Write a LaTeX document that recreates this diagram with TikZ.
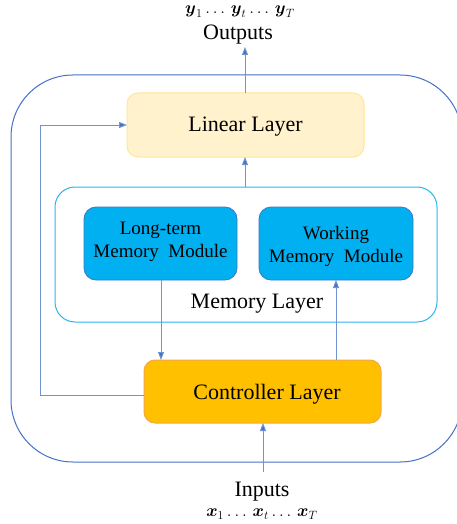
\documentclass[tikz,border=0pt]{standalone}
\usepackage{amsmath}
\usepackage{fontspec}
\setmainfont{Liberation Serif}
\usetikzlibrary{arrows.meta}
\definecolor{lineblue}{HTML}{4472C4}
\definecolor{conblue}{HTML}{6F93D3}
\definecolor{cyanedge}{HTML}{2BB5EA}
\definecolor{modfill}{HTML}{00B0F0}
\definecolor{modedge}{HTML}{3C78C8}
\definecolor{linfill}{HTML}{FFF2CC}
\definecolor{linedge}{HTML}{FFE699}
\definecolor{ctrlfill}{HTML}{FFC000}
\definecolor{ctrledge}{HTML}{F7A642}
\tikzset{
  big/.style={font=\fontsize{22}{26}\selectfont},
  mid/.style={font=\fontsize{19}{23}\selectfont, align=center},
  mathlab/.style={font=\fontsize{16.5}{19}\selectfont},
  conn/.style={draw=conblue, line width=0.9pt, -{Triangle[length=8pt,width=6pt,fill=lineblue]}},
  modbox/.style={draw=modedge, fill=modfill, line width=0.8pt, rounded corners=12pt},
}
\begin{document}
\begin{tikzpicture}[x=1pt,y=-1pt]
\useasboundingbox (0,0) rectangle (457,524);
% outer
\draw[lineblue, line width=1pt, rounded corners=62pt] (11,75) rectangle (462,462);
% linear layer
\draw[linedge, fill=linfill, line width=1pt, rounded corners=11pt] (127,93) rectangle (364,157);
\node[big] (lin) at (245.5,127) {Linear Layer};
\coordinate (linT) at (245,93);
\coordinate (linB) at (245,157);
\coordinate (linL) at (127,125);
% memory layer
\draw[cyanedge, line width=1pt, rounded corners=20pt] (55,187) rectangle (437,322);
\coordinate (memT) at (245,187);
\node[big] (meml) at (257,304) {Memory Layer};
% modules
\draw[modbox] (84,207) rectangle (237,280);
\node[mid] (lt) at (160.5,242) {Long-term\\Memory\ \ Module};
\draw[modbox] (259,207) rectangle (413,280);
\node[mid] (wk) at (336,246) {Working\\Memory\ \ Module};
\coordinate (ltB) at (161,280);
\coordinate (wkB) at (336,280);
% controller
\draw[ctrledge, fill=ctrlfill, line width=1pt, rounded corners=11pt] (144,360) rectangle (381,423);
\node[big] (ctrl) at (267,394) {Controller Layer};
\coordinate (ctT1) at (161,360);
\coordinate (ctT2) at (336,360);
\coordinate (ctL) at (144,395);
\coordinate (ctB) at (263,423);
% texts outside
\node[big] (out) at (238,35) {Outputs};
\node[mathlab] (ylab) at (240,12) {$\boldsymbol{y}_1\ldots\,\boldsymbol{y}_t\ldots\,\boldsymbol{y}_T$};
\node[big] (inp) at (262,492) {Inputs};
\node[mathlab] (xlab) at (262,514) {$\boldsymbol{x}_1\ldots\,\boldsymbol{x}_t\ldots\,\boldsymbol{x}_T$};
\coordinate (outB) at (245,47);
\coordinate (inT) at (263,472);
% connectors
\draw[conn] (linT) -- (outB);
\draw[conn] (memT) -- (linB);
\draw[conn] (ltB) -- (ctT1);
\draw[conn] (ctT2) -- (wkB);
\draw[conn] (ctL) -- (40,395) -- (40,125) -- (linL);
\draw[conn] (inT) -- (ctB);
\end{tikzpicture}
\end{document}
